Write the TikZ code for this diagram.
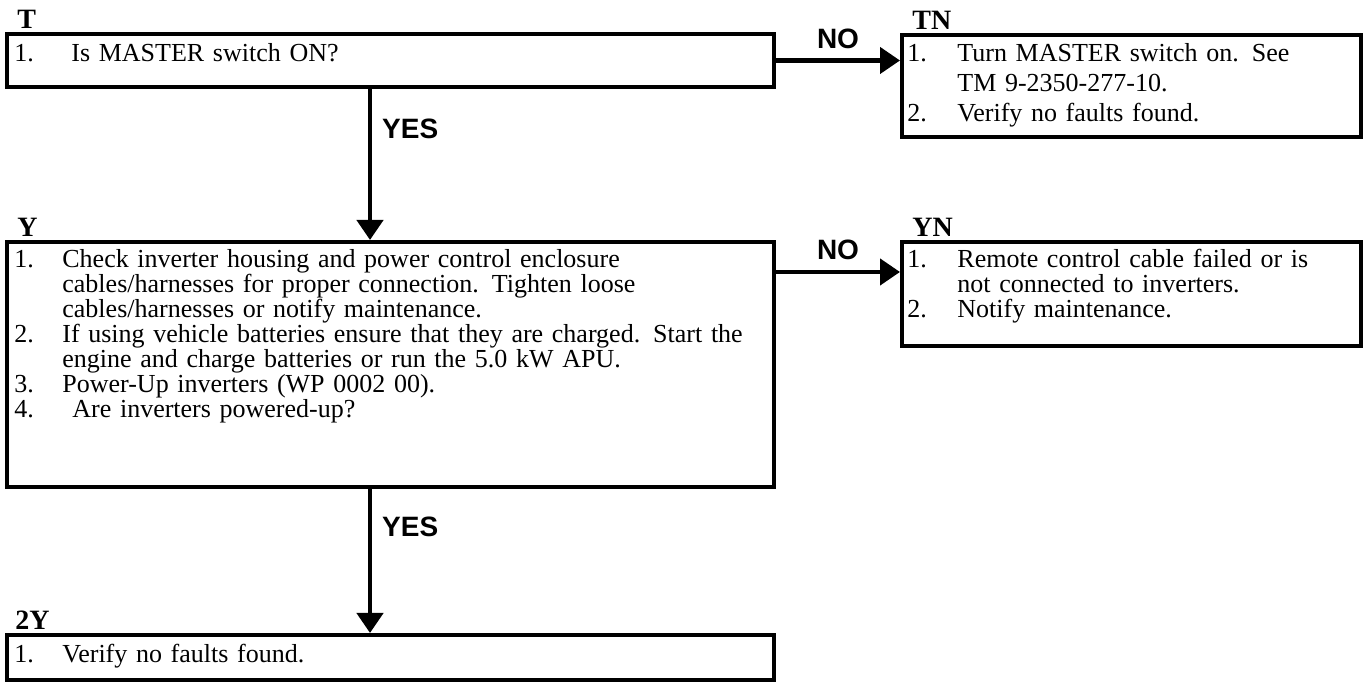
\documentclass[tikz,border=0pt]{standalone}
\usepackage{fontspec}
\setmainfont{Liberation Serif}
\newfontfamily\labelfont{Liberation Sans}
\usetikzlibrary{positioning, arrows.meta}

\newcommand{\stepnum}[2][24pt]{\makebox[#1][l]{#2}}

\begin{document}
\begin{tikzpicture}[x=0.5pt, y=0.5pt,
    stepbox/.style={draw, line width=2.2pt, anchor=north west, inner sep=0pt, minimum width=383.3pt},
    sidebox/.style={stepbox, minimum width=229.3pt},
    steptext/.style={anchor=base west, inner sep=0pt, text width=440pt, align=left, font=\fontsize{13pt}{12.5pt}\selectfont},
    head/.style={inner sep=0pt, text depth=0pt, font=\fontsize{14pt}{14pt}\selectfont\bfseries},
    answer/.style={inner sep=0pt, text depth=0pt, font=\labelfont\fontsize{14pt}{14pt}\selectfont\bfseries},
    flow/.style={line width=2.2pt, -{Triangle[length=10pt, width=13pt]}}]
  \useasboundingbox (0,0) rectangle (1364,683);

  \node[stepbox, minimum height=26.3pt] (T) at (5,651) {};
  \node[sidebox, minimum height=50.8pt] (TN) at (900,650) {};
  \node[stepbox, minimum height=122.3pt] (Y) at (5,443) {};
  \node[sidebox, minimum height=51.8pt] (YN) at (900,443) {};
  \node[stepbox, minimum height=22.3pt] (YY) at (5,50) {};

  \node[head, above right=1.5pt and 6pt of T.north west] (Thead) {T};
  \node[head, above right=1.5pt and 6pt of TN.north west] (TNhead) {TN};
  \node[head, above right=1.5pt and 6pt of Y.north west] (Yhead) {Y};
  \node[head, above right=1.5pt and 6pt of YN.north west] (YNhead) {YN};
  \node[head, above right=1.5pt and 5pt of YY.north west] (YYhead) {2Y};

  \node[steptext] (Ttext) at ([shift={(4.5pt,-15pt)}]T.north west)
    {\stepnum[28.5pt]{1.}Is MASTER switch ON?};
  \node[steptext, font=\fontsize{13pt}{15pt}\selectfont] (TNtext) at ([shift={(3.5pt,-14.5pt)}]TN.north west)
    {\stepnum[25pt]{1.}Turn MASTER switch on. See\\
     \stepnum[25pt]{}TM 9-2350-277-10.\\
     \stepnum[25pt]{2.}Verify no faults found.};
  \node[steptext] (Ytext) at ([shift={(4.5pt,-14pt)}]Y.north west)
    {\stepnum{1.}Check inverter housing and power control enclosure\\
     \stepnum{}cables/harnesses for proper connection. Tighten loose\\
     \stepnum{}cables/harnesses or notify maintenance.\\
     \stepnum{2.}If using vehicle batteries ensure that they are charged. Start the\\
     \stepnum{}engine and charge batteries or run the 5.0 kW APU.\\
     \stepnum{3.}Power-Up inverters (WP 0002 00).\\
     \stepnum{4.}\hspace{5pt}Are inverters powered-up?};
  \node[steptext] (YNtext) at ([shift={(3.5pt,-14pt)}]YN.north west)
    {\stepnum[25pt]{1.}Remote control cable failed or is\\
     \stepnum[25pt]{}not connected to inverters.\\
     \stepnum[25pt]{2.}Notify maintenance.};
  \node[steptext] (YYtext) at ([shift={(4.5pt,-15pt)}]YY.north west)
    {\stepnum{1.}Verify no faults found.};

  \draw[flow] (T.east) -- node[answer, above=5pt] {NO} (T.east -| TN.west);
  \draw[flow] ([xshift=182.5pt]T.south west) -- node[answer, pos=0.26, right=5pt] {YES} ([xshift=182.5pt]Y.north west);
  \draw[flow] ([yshift=-16pt]Y.north east) -- node[answer, above=5pt] {NO} ([yshift=-16pt]YN.north west);
  \draw[flow] ([xshift=182.5pt]Y.south west) -- node[answer, pos=0.26, right=5pt] {YES} ([xshift=182.5pt]YY.north west);
\end{tikzpicture}
\end{document}
